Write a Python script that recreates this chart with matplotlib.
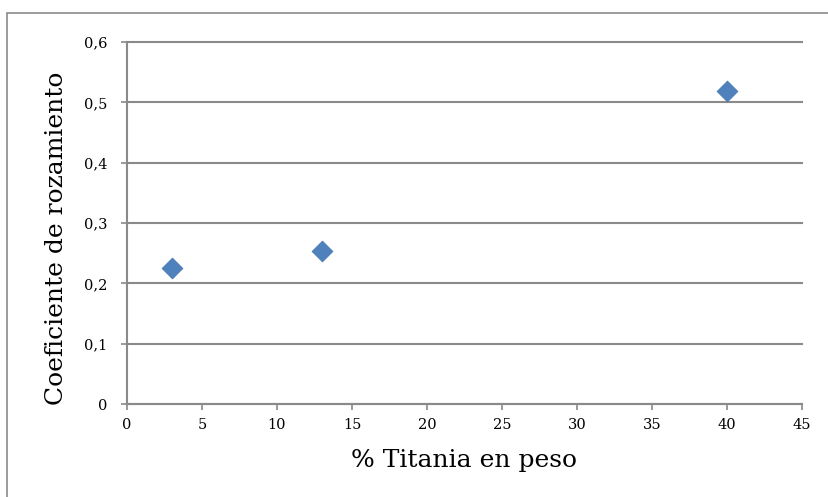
import numpy as np
import matplotlib
matplotlib.use("Agg")
import matplotlib.pyplot as plt
from matplotlib.patches import Rectangle
from matplotlib.ticker import FuncFormatter

# --- data ---
titania = [3, 13, 40]            # % Titania en peso
friction = [0.226, 0.254, 0.519]  # coeficiente de rozamiento
x_ticks = list(range(0, 50, 5))
y_ticks = [0, 0.1, 0.2, 0.3, 0.4, 0.5, 0.6]

GRID = '#8a8a8a'
BLUE = '#4f81bd'
W, H = 829, 497

plt.rcParams['font.family'] = ['DejaVu Serif']

fig = plt.figure(figsize=(W / 100, H / 100), dpi=100)
ax = fig.add_axes([127/W, 1 - 404/H, (802 - 127)/W, (404 - 42)/H])

# outer chart frame (right and bottom edges are cut off in the original)
fig.patches.append(Rectangle((7/W, -0.1), 1.2, (H - 13)/H + 0.1,
                             transform=fig.transFigure, fill=False,
                             edgecolor='#8a8a8a', lw=1.2))

ax.scatter(titania, friction, marker='D', s=112, color=BLUE,
           edgecolors='#4a7ab3', linewidths=0.6, zorder=3, clip_on=False)

ax.set_xlim(0, 45)
ax.set_ylim(0, 0.6)
ax.set_xticks(x_ticks)
ax.set_yticks(y_ticks)
ax.yaxis.set_major_formatter(FuncFormatter(lambda v, p: '0' if v == 0 else f'{v:.1f}'.replace('.', ',')))

ax.grid(axis='y', color=GRID, lw=1.5)
for gl in ax.get_ygridlines():
    gl.set_clip_on(False)
ax.set_axisbelow(True)
for s in ['top', 'right']:
    ax.spines[s].set_visible(False)
for s in ['left', 'bottom']:
    ax.spines[s].set_color(GRID)
    ax.spines[s].set_linewidth(1.5)

ax.tick_params(axis='both', colors=GRID, length=4, width=1.2, labelcolor='black', labelsize=10.5)
ax.tick_params(axis='y', pad=10)
ax.tick_params(axis='x', pad=6)

# axis titles placed like the original (y title sits a bit below the plot centre)
fig.text(464/W, 1 - 467/H, '% Titania en peso', fontsize=18,
         ha='center', va='baseline')
fig.text(63/W, 1 - 238/H, 'Coeficiente de rozamiento', fontsize=18,
         rotation=90, ha='center', va='baseline', rotation_mode='anchor')

fig.savefig('out.png', dpi=100)
